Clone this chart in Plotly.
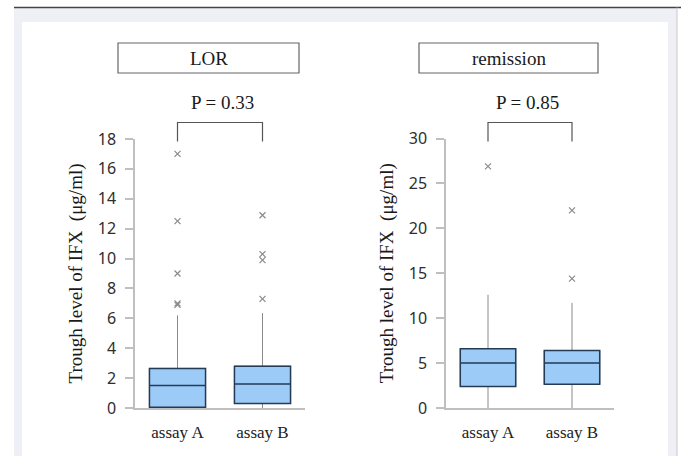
import plotly.graph_objects as go

W, H = 681, 456

# ---- data -------------------------------------------------------------
assays = ["assay A", "assay B"]

# LOR group: box statistics (µg/ml)
lor_q1 = [0.05, 0.3]
lor_median = [1.5, 1.6]
lor_q3 = [2.65, 2.8]
lor_low = [0.0, 0.0]
lor_high = [6.2, 6.35]
lor_out_a = [17.0, 12.5, 9.0, 7.0, 6.9]
lor_out_b = [12.9, 10.3, 9.9, 7.3]

# remission group
rem_q1 = [2.4, 2.65]
rem_median = [5.0, 5.0]
rem_q3 = [6.6, 6.4]
rem_low = [0.0, 0.0]
rem_high = [12.6, 11.7]
rem_out_a = [26.9]
rem_out_b = [22.0, 14.4]

groups = ["LOR", "remission"]
p_values = ["P = 0.33", "P = 0.85"]
y_ranges = [18, 30]
y_dticks = [2, 5]

# ---- styling ----------------------------------------------------------
BOX_FILL = "#9ccbf8"
BOX_LINE = "#243b55"
WHISKER = "#8a8a8a"
AXIS = "#bfbfbf"
SERIF = "Liberation Serif"
SANS = "Noto Sans"

def px_x(v):
    return v / W

def px_y(v):
    return 1 - v / H

fig = go.Figure()

panels = [
    dict(q1=lor_q1, med=lor_median, q3=lor_q3, lo=lor_low, hi=lor_high,
         outs=[lor_out_a, lor_out_b], xdom=(135, 305), ydom=(139, 408)),
    dict(q1=rem_q1, med=rem_median, q3=rem_q3, lo=rem_low, hi=rem_high,
         outs=[rem_out_a, rem_out_b], xdom=(446, 614), ydom=(138.5, 408)),
]

for i, p in enumerate(panels):
    xa = "x" if i == 0 else "x2"
    ya = "y" if i == 0 else "y2"
    # whiskers (thin grey lines from fence to fence)
    fig.add_trace(go.Box(
        x=assays, q1=p["q1"], median=p["med"], q3=p["q3"],
        lowerfence=p["lo"], upperfence=p["hi"],
        fillcolor="rgba(0,0,0,0)", line=dict(color=WHISKER, width=1),
        whiskerwidth=0, width=0.66, boxpoints=False, hoverinfo="skip",
        xaxis=xa, yaxis=ya, showlegend=False,
    ))
    # boxes with dark outline and median line
    fig.add_trace(go.Box(
        x=assays, q1=p["q1"], median=p["med"], q3=p["q3"],
        lowerfence=p["q1"], upperfence=p["q3"],
        fillcolor=BOX_FILL, line=dict(color=BOX_LINE, width=1.5),
        whiskerwidth=0, width=0.66, boxpoints=False,
        xaxis=xa, yaxis=ya, showlegend=False,
    ))
    # outliers
    for name, vals in zip(assays, p["outs"]):
        fig.add_trace(go.Scatter(
            x=[name] * len(vals), y=vals, mode="markers",
            marker=dict(symbol="x-thin", size=6, color=WHISKER,
                        line=dict(color=WHISKER, width=1.2)),
            xaxis=xa, yaxis=ya, showlegend=False,
        ))

    x0, x1 = p["xdom"]
    y0, y1 = p["ydom"]
    suffix = "" if i == 0 else "2"
    fig.update_layout(**{
        "xaxis" + suffix: dict(
            domain=[px_x(x0), px_x(x1)], range=[-0.5, 1.5],
            showline=True, linecolor=AXIS, linewidth=1.5, ticks="",
            showgrid=False, zeroline=False, anchor=ya, automargin=False,
            ticklabelstandoff=8,
            tickfont=dict(family=SERIF, size=17, color="#222"),
            fixedrange=True,
        ),
        "yaxis" + suffix: dict(
            domain=[px_y(y1), px_y(y0)], range=[0, y_ranges[i]],
            dtick=y_dticks[i], showline=True, linecolor=AXIS, linewidth=1.5,
            ticks="outside", ticklen=8, tickcolor=AXIS, tickwidth=1.5,
            showgrid=False, zeroline=False, anchor=xa, automargin=False,
            ticklabelstandoff=6,
            tickfont=dict(family=SANS, size=16, color="#2e2e2e"),
            title=dict(text="Trough level of IFX  (μg/ml)", standoff=10,
                       font=dict(family=SERIF, size=19, color="#1a1a1a")),
            fixedrange=True,
        ),
    })

# frame: grey-blue surround with dark top rule, white inner panel
shapes = [
    dict(type="rect", xref="paper", yref="paper", layer="below",
         x0=px_x(14), x1=px_x(677), y0=0, y1=px_y(7.5),
         fillcolor="#eff0f6", line=dict(width=0)),
    dict(type="line", xref="paper", yref="paper",
         x0=px_x(14), x1=px_x(681), y0=px_y(7.5), y1=px_y(7.5),
         line=dict(color="#444", width=1.5)),
    dict(type="line", xref="paper", yref="paper",
         x0=px_x(677), x1=px_x(677), y0=0, y1=px_y(7.5),
         line=dict(color="#c8c8c8", width=1)),
    dict(type="rect", xref="paper", yref="paper", layer="below",
         x0=px_x(22), x1=px_x(668), y0=0, y1=px_y(22),
         fillcolor="white", line=dict(width=0)),
]

# group title boxes
title_boxes = [(118, 299), (419, 598)]
annotations = []
for (bx0, bx1), label in zip(title_boxes, groups):
    shapes.append(dict(type="rect", xref="paper", yref="paper",
                       x0=px_x(bx0), x1=px_x(bx1), y0=px_y(73), y1=px_y(43),
                       line=dict(color="#666", width=1.2), fillcolor="white"))
    annotations.append(dict(xref="paper", yref="paper",
                            x=px_x((bx0 + bx1) / 2), y=px_y(58), text=label,
                            showarrow=False, xanchor="center", yanchor="middle",
                            font=dict(family=SERIF, size=19, color="#1a1a1a")))

# significance brackets and P values
bracket_x = [(0, 1), (0, 1)]
p_centers = [222, 527]
for i in range(2):
    xa = "x" if i == 0 else "x2"
    xtop = px_y(122.5)
    xbot = px_y(141.5)
    a, b = bracket_x[i]
    shapes.append(dict(type="path", xref=xa, yref="paper",
                       path=f"M {a},{xbot} L {a},{xtop} L {b},{xtop} L {b},{xbot}",
                       line=dict(color="#555", width=1.2)))
    annotations.append(dict(xref="paper", yref="paper",
                            x=px_x(p_centers[i]), y=px_y(102), text=p_values[i],
                            showarrow=False, xanchor="center", yanchor="middle",
                            font=dict(family=SERIF, size=19, color="#1a1a1a")))

fig.update_layout(
    width=W, height=H, autosize=False,
    margin=dict(l=0, r=0, t=0, b=0),
    paper_bgcolor="white", plot_bgcolor="rgba(0,0,0,0)",
    boxmode="overlay", shapes=shapes, annotations=annotations,
    showlegend=False,
)

fig.write_html("out.html")
